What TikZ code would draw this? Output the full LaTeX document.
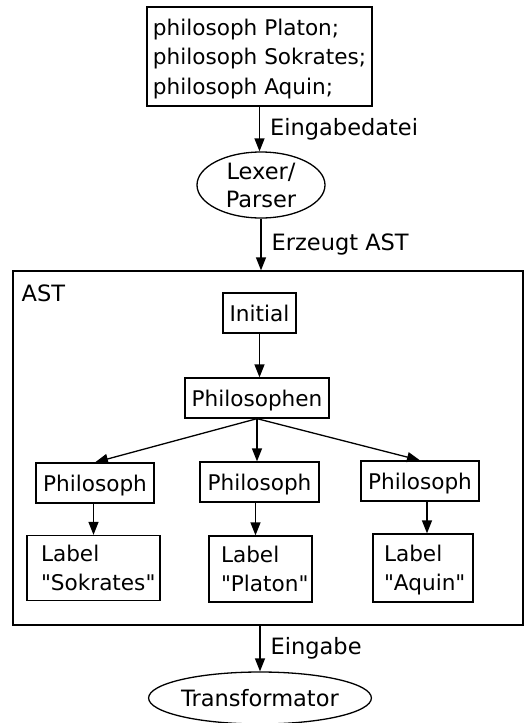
\documentclass[tikz,border=0pt]{standalone}
\usepackage{fontspec}
\setmainfont{DejaVu Sans}
\usetikzlibrary{arrows.meta,shapes.geometric}

\begin{document}
\begin{tikzpicture}[x=1pt,y=-1pt,
  line width=1.3pt,
  boxfont/.style={font=\fontsize{21.6}{29.5}\selectfont},
  bigfont/.style={font=\fontsize{22.5}{28}\selectfont},
  box/.style={draw, rectangle, inner sep=0pt, text depth=0pt, boxfont},
  labelbox/.style={box, align=left, text width=#1, text depth=29.5pt},
  oval/.style={draw, ellipse, inner sep=0pt, align=center, text depth=0pt, bigfont},
  arr/.style={-{Triangle[length=13pt,width=10pt]}},
  lbl/.style={anchor=west, inner sep=0pt, xshift=10pt, bigfont}]
\useasboundingbox (0,0) rectangle (528,723);

% input file and parser
\node[box, minimum width=225pt, minimum height=99pt, align=left] (src) at (259.5,56.5)
  {philosoph Platon;\\philosoph Sokrates;\\philosoph Aquin;};
\node[oval, minimum width=128pt, minimum height=66pt] (lex) at (261,185) {Lexer/\\Parser};

% syntax tree frame
\node[box, minimum width=510pt, minimum height=354pt] (ast) at (268,448) {};
\node[anchor=base west, inner sep=0pt, bigfont] (asttitle) at (21,301) {AST};

% tree nodes
\node[box, minimum width=73pt, minimum height=40pt] (init) at (259.5,313) {Initial};
\node[box, minimum width=144pt, minimum height=40pt] (phs) at (257,398) {Philosophen};
\node[box, minimum width=118pt, minimum height=40pt] (ph1) at (95,483) {Philosoph};
\node[box, minimum width=119pt, minimum height=40pt] (ph2) at (259.5,482) {Philosoph};
\node[box, minimum width=118pt, minimum height=40pt] (ph3) at (420,481) {Philosoph};
\node[labelbox=105pt, inner xsep=14pt, minimum height=65pt] (lab1) at (93.5,568)
  {Label\\\textquotedbl Sokrates\textquotedbl};
\node[labelbox=79pt, inner xsep=12pt, minimum height=66pt] (lab2) at (260.5,569)
  {Label\\\textquotedbl Platon\textquotedbl};
\node[labelbox=78pt, inner xsep=11pt, minimum height=68pt] (lab3) at (423,568)
  {Label\\\textquotedbl Aquin\textquotedbl};

% output stage
\node[oval, minimum width=190pt, minimum height=52pt] (trans) at (260,698) {Transformator};

% connectors
\draw[arr] (src.south) -- (src.south |- lex.north) node[midway, lbl] {Eingabedatei};
\draw[arr] (lex.south) -- (lex.south |- ast.north) node[midway, lbl] {Erzeugt AST};
\draw[arr] (init.south) -- (init.south |- phs.north);
\draw[arr] (phs.south) -- (ph1.north);
\draw[arr] (phs.south) -- (phs.south |- ph2.north);
\draw[arr] (phs.south) -- (ph3.north);
\draw[arr] (ph1.south -| lab1.north) -- (lab1.north);
\draw[arr] ([xshift=-4pt]ph2.south) -- ([xshift=-4pt]ph2.south |- lab2.north);
\draw[arr] ([xshift=7pt]ph3.south) -- ([xshift=7pt]ph3.south |- lab3.north);
\draw[arr] (trans.north |- ast.south) -- (trans.north) node[midway, lbl] {Eingabe};
\end{tikzpicture}
\end{document}
